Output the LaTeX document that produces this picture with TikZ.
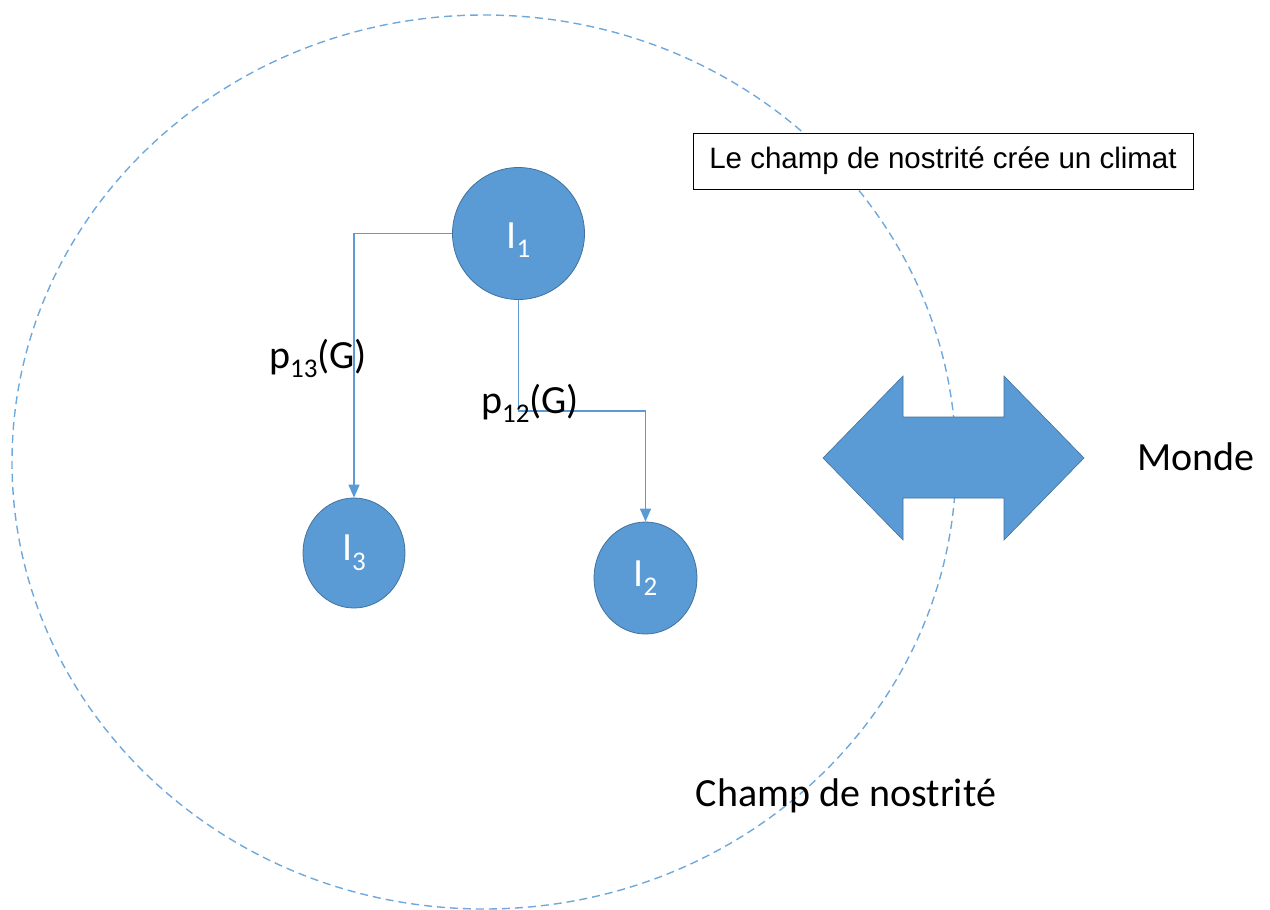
\documentclass[tikz,border=0pt]{standalone}
\usepackage{fontspec}
\setmainfont{Carlito}
\newfontfamily\arialfont{Liberation Sans}
\usetikzlibrary{shapes.geometric,arrows.meta}
\definecolor{offblue}{HTML}{5B9BD5}
\definecolor{offedge}{HTML}{41719C}
\definecolor{dashblue}{HTML}{6FA8DC}
\tikzset{
  ibubble/.style={ellipse, fill=offblue, draw=offedge, line width=0.8pt, inner sep=0pt,
    text=white, font=\fontsize{40}{44}\selectfont},
  conn/.style={draw=offblue, line width=1.6pt, -{Triangle[length=13pt,width=11pt]}},
  lbl/.style={anchor=base, inner sep=0pt, font=\fontsize{40}{44}\selectfont},
}
\newcommand{\sub}[1]{\raisebox{-0.24em}{\fontsize{27}{28}\selectfont #1}}
\begin{document}
\begin{tikzpicture}[x=1pt,y=-1pt]
\useasboundingbox (0,0) rectangle (1270,910);
% champ de nostrite (dashed ellipse)
\node[ellipse, draw=dashblue, line width=1.4pt, dash pattern=on 8pt off 5pt,
  minimum width=944pt, minimum height=894pt, inner sep=0pt] (champ) at (484,462) {};
% individuals
\node[ibubble, minimum width=132pt, minimum height=132pt, text depth=0pt] (I1) at (518.5,233.5) {\raisebox{-4pt}{I\sub{1}}};
\node[ibubble, minimum width=102pt, minimum height=110pt] (I3) at (354,553) {\raisebox{-4pt}{I\sub{3}}};
\node[ibubble, minimum width=103pt, minimum height=112pt] (I2) at (645.5,578) {\raisebox{-4pt}{I\sub{2}}};
% connectors
\coordinate (b12) at (645.5,411);
\draw[conn] (I1.west) -| (I3.north);
\draw[conn] (I1.south) |- (b12) -- (I2.north);
% labels
\node[lbl] (p13) at (318,368) {p\sub{13}(G)};
\node[lbl] (p12) at (530,413) {p\sub{12}(G)};
% double arrow
\fill[offblue, draw=offedge, line width=0.6pt]
  (823,458) -- (903,376) -- (903,417) -- (1004,417) -- (1004,376) -- (1084,458)
  -- (1004,540) -- (1004,498) -- (903,498) -- (903,540) -- cycle;
\node[lbl] (monde) at (1196,470) {Monde};
\node[lbl] (champlbl) at (846,806) {Champ de nostrité};
% top box
\node[draw=black, line width=1pt, fill=white, minimum width=500pt, minimum height=56pt,
  inner sep=0pt, font=\arialfont\fontsize{29.5}{32}\selectfont] (climat) at (943,161)
  {Le champ de nostrité crée un climat};
\end{tikzpicture}
\end{document}
